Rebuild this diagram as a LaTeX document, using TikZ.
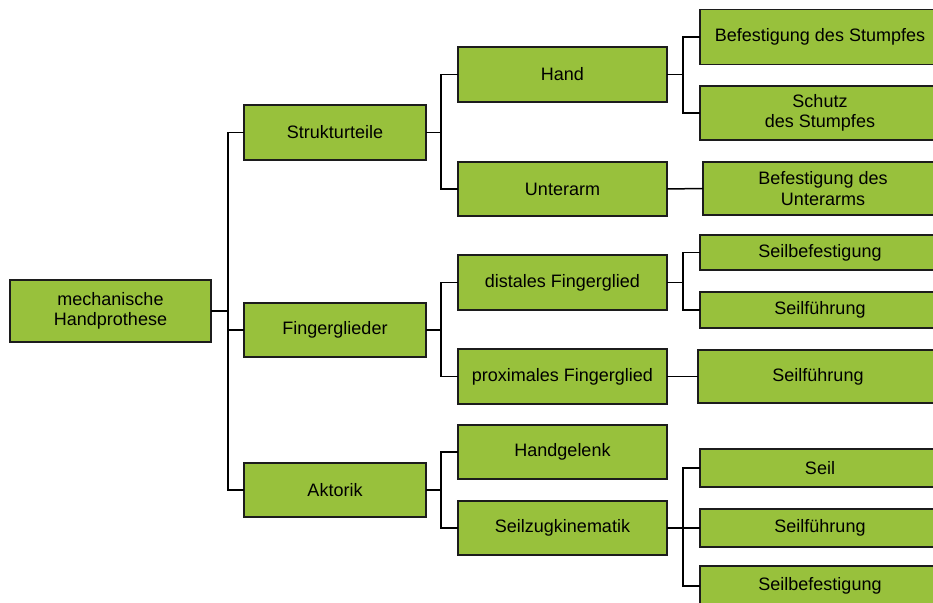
\documentclass[tikz,border=0pt]{standalone}
\usepackage{fontspec}
\setmainfont{Liberation Sans}
\definecolor{boxfill}{HTML}{98C13C}
\definecolor{boxline}{HTML}{1C1C1C}
\begin{document}
\begin{tikzpicture}[x=0.5pt,y=-0.5pt,
  every node/.style={font=\fontsize{9}{10.2}\selectfont},
  item/.style 2 args={draw=boxline,fill=boxfill,line width=0.75pt,
    inner sep=0pt,outer sep=0pt,align=center,
    minimum width=#1*0.5pt,minimum height=#2*0.5pt},
  link/.style={draw=black,line width=0.75pt}]
\useasboundingbox (0,0) rectangle (933,603);
\clip (0,0) rectangle (933,603);

% root
\node[item={201}{62}] (root) at (110.5,311) {mechanische\\Handprothese};

% first level
\node[item={182}{55}] (struk) at (335,132.5) {Strukturteile};
\node[item={182}{54}] (finger) at (335,330) {Fingerglieder};
\node[item={182}{54}] (akt) at (335,490) {Aktorik};

% second level
\node[item={209}{55}] (hand) at (562.5,74.5) {Hand};
\node[item={209}{54}] (unter) at (562.5,189) {Unterarm};
\node[item={209}{55}] (dist) at (562.5,282.5) {distales Fingerglied};
\node[item={209}{55}] (prox) at (562.5,376.5) {proximales Fingerglied};
\node[item={209}{54}] (gelenk) at (562.5,452) {Handgelenk};
\node[item={209}{54}] (zug) at (562.5,528) {Seilzugkinematik};

% third level
\node[item={240}{55}] (bstumpf) at (820,37) {Befestigung des Stumpfes};
\node[item={240}{54}] (schutz) at (820,113) {Schutz\\des Stumpfes};
\node[item={240}{53}] (bunter) at (823,188.5) {Befestigung des\\Unterarms};
\node[item={240}{35}] (dbef) at (820,252.5) {Seilbefestigung};
\node[item={240}{36}] (dfuehr) at (820,310) {Seilführung};
\node[item={240}{53}] (pfuehr) at (818,376.5) {Seilführung};
\node[item={240}{38}] (seil) at (820,468) {Seil};
\node[item={240}{38}] (zfuehr) at (820,528) {Seilführung};
\node[item={240}{40}] (zbef) at (820,586) {Seilbefestigung};

% connectors
\draw[link] (root.east) -- +(17,0) |- (struk.west);
\draw[link] (root.east) -- +(17,0) |- (finger.west);
\draw[link] (root.east) -- +(17,0) |- (akt.west);

\draw[link] (struk.east) -- +(15,0) |- (hand.west);
\draw[link] (struk.east) -- +(15,0) |- (unter.west);
\draw[link] (finger.east) -- +(15,0) |- (dist.west);
\draw[link] (finger.east) -- +(15,0) |- (prox.west);
\draw[link] (akt.east) -- +(15,0) |- (gelenk.west);
\draw[link] (akt.east) -- +(15,0) |- (zug.west);

\draw[link] (hand.east) -- +(16,0) |- (bstumpf.west);
\draw[link] (hand.east) -- +(16,0) |- (schutz.west);
\draw[link] (unter.east) -- (bunter.west);
\draw[link] (dist.east) -- +(16,0) |- (dbef.west);
\draw[link] (dist.east) -- +(16,0) |- (dfuehr.west);
\draw[link] (prox.east) -- (pfuehr.west);
\draw[link] (zug.east) -- +(16,0) |- (seil.west);
\draw[link] (zug.east) -- +(16,0) |- (zfuehr.west);
\draw[link] (zug.east) -- +(16,0) |- (zbef.west);
\end{tikzpicture}
\end{document}
